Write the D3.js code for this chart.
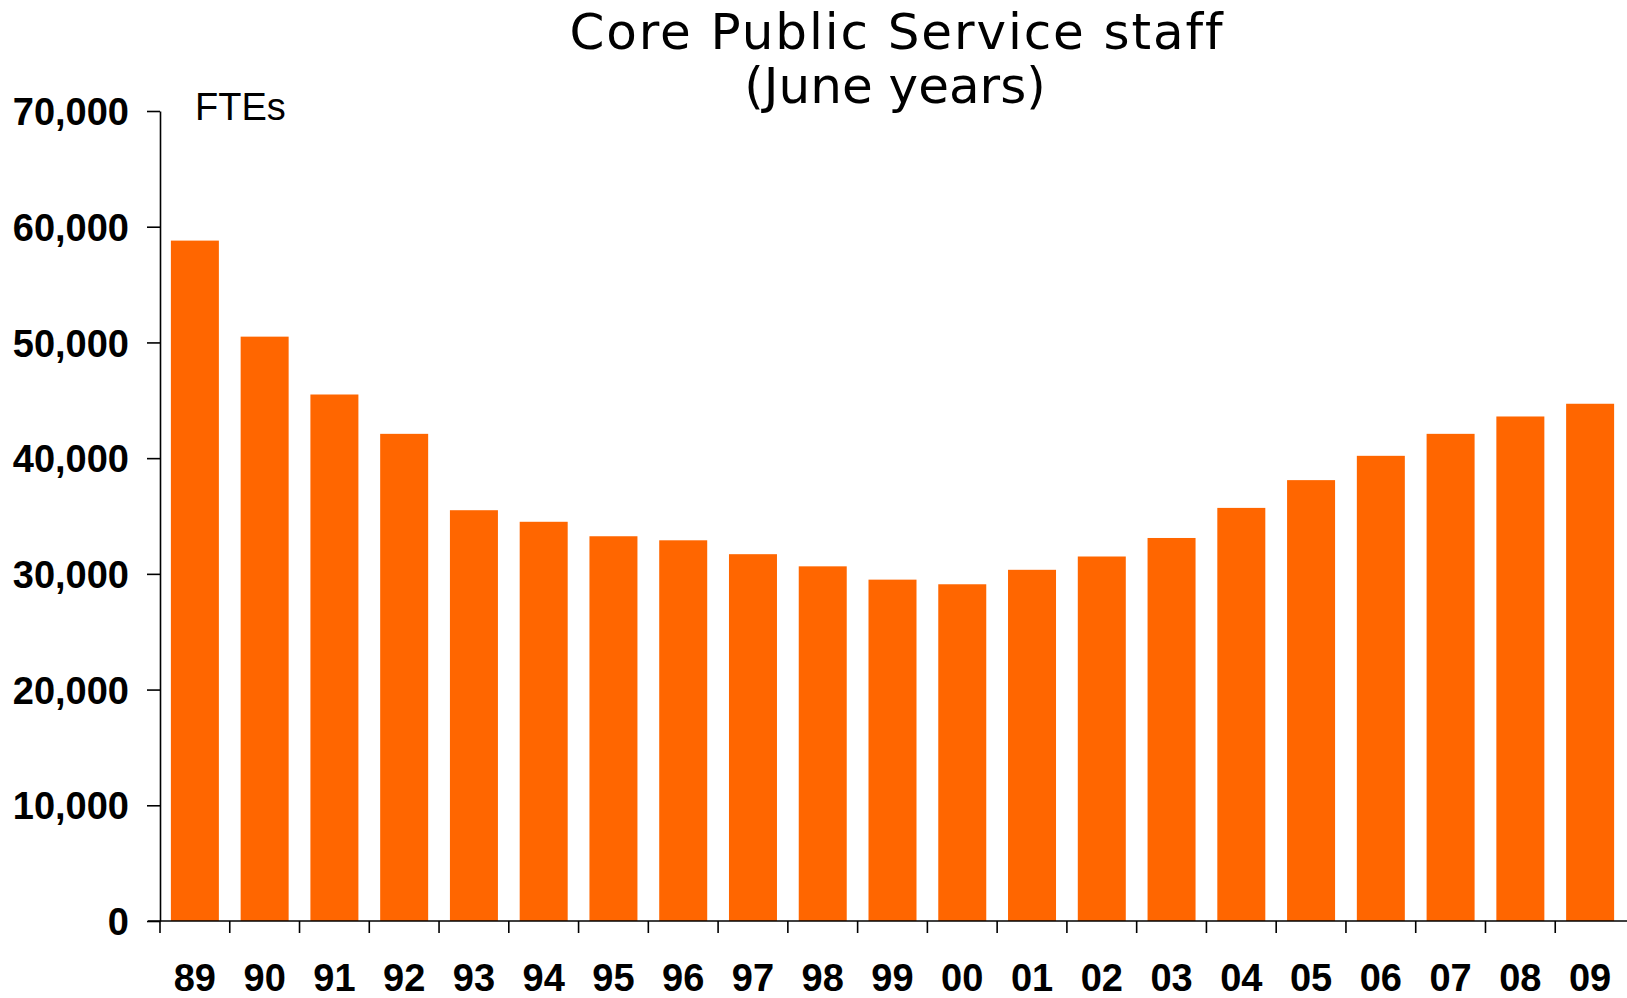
<!DOCTYPE html>
<html><head><meta charset="utf-8">
<script src="https://cdn.jsdelivr.net/npm/d3@7"></script>
<style>body{margin:0;background:#fff}svg{display:block}</style>
</head><body>
<svg id="c" width="1627" height="998"></svg>
<script>
const categories = ["89","90","91","92","93","94","95","96","97","98","99","00","01","02","03","04","05","06","07","08","09"];
const staffFTEs = [58800,50500,45500,42100,35500,34500,33250,32900,31700,30650,29500,29100,30350,31500,33100,35700,38100,40200,42100,43600,44700];
const yTicks = [0,10000,20000,30000,40000,50000,60000,70000];
const titleText = "Core Public Service staff";
const subtitleText = "(June years)";
const unitLabel = "FTEs";

const svg = d3.select("#c");
const x0 = 160, x1 = 1625, yTop = 111, yBase = 921;
const x = d3.scaleBand().domain(categories).range([x0, x1]).paddingInner(0.312).paddingOuter(0.156);
const xb = d3.scaleBand().domain(categories).range([x0, x1]).padding(0);
const y = d3.scaleLinear().domain([0, 70000]).range([yBase, yTop]);

// bars
svg.append("g").selectAll("rect").data(staffFTEs).join("rect")
  .attr("x", (d,i) => x(categories[i]))
  .attr("width", x.bandwidth())
  .attr("y", d => y(d))
  .attr("height", d => y(0) - y(d))
  .attr("fill", "#FF6600");

// y axis
const yAxis = svg.append("g").attr("transform", `translate(${x0},0)`)
  .call(d3.axisLeft(y).tickValues(yTicks).tickSize(13).tickSizeOuter(0).tickPadding(18).tickFormat(d3.format(",")));
yAxis.select(".domain").attr("stroke", "#000").attr("stroke-width", 1.6);
yAxis.selectAll(".tick line").attr("stroke", "#000").attr("stroke-width", 1.6);
yAxis.selectAll(".tick text").attr("font-family", "Liberation Sans, Arial, sans-serif")
  .attr("font-weight", "bold").attr("font-size", 38).attr("fill", "#000").attr("dy", "0.36em");

// x axis
svg.append("line").attr("x1", 148).attr("x2", 1627).attr("y1", yBase).attr("y2", yBase)
  .attr("stroke", "#000").attr("stroke-width", 1.6);
const xg = svg.append("g");
xg.selectAll("line").data(categories).join("line")
  .attr("x1", d => xb(d)).attr("x2", d => xb(d))
  .attr("y1", yBase).attr("y2", yBase + 12)
  .attr("stroke", "#000").attr("stroke-width", 1.6);
xg.selectAll("text").data(categories).join("text")
  .attr("x", d => xb(d) + xb.bandwidth()/2)
  .attr("y", 991)
  .attr("text-anchor", "middle")
  .attr("font-family", "Liberation Sans, Arial, sans-serif")
  .attr("font-weight", "bold").attr("font-size", 38).attr("fill", "#000")
  .text(d => d);

// titles
svg.append("text").attr("x", 897).attr("y", 49).attr("text-anchor", "middle")
  .attr("font-family", "DejaVu Sans, Verdana, sans-serif").attr("font-size", 50)
  .attr("letter-spacing", 1.9).attr("fill", "#000")
  .text(titleText);
svg.append("text").attr("x", 895).attr("y", 103).attr("text-anchor", "middle")
  .attr("font-family", "DejaVu Sans, Verdana, sans-serif").attr("font-size", 50).attr("fill", "#000")
  .text(subtitleText);
svg.append("text").attr("x", 195).attr("y", 120)
  .attr("font-family", "Liberation Sans, Arial, sans-serif").attr("font-size", 38).attr("fill", "#000")
  .text(unitLabel);
</script>
</body></html>
